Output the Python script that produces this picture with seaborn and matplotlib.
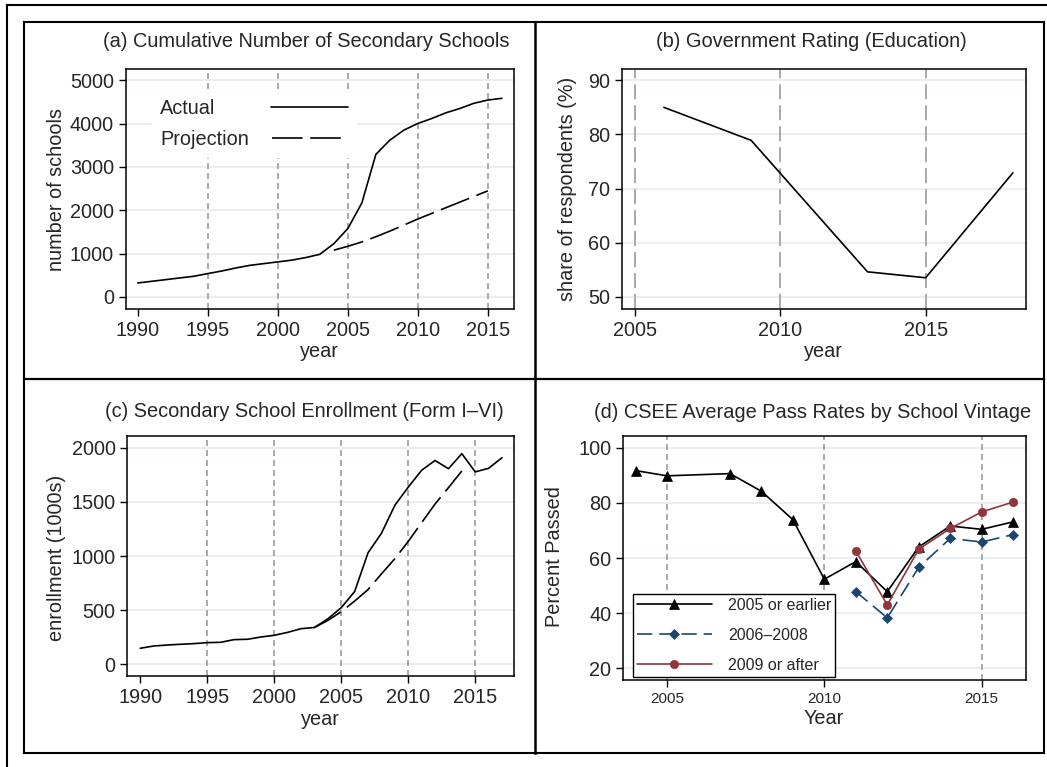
import matplotlib
matplotlib.use("Agg")
import matplotlib.pyplot as plt
import seaborn as sns
import pandas as pd
from matplotlib.lines import Line2D

# ---------------- data ----------------
years_schools = [1990, 1991, 1992, 1993, 1994, 1995, 1996, 1997, 1998, 1999, 2000, 2001, 2002,
                 2003, 2004, 2005, 2006, 2007, 2008, 2009, 2010, 2011, 2012, 2013, 2014, 2015, 2016]
schools_actual = [324, 362, 400, 440, 478, 540, 600, 670, 730, 770, 810, 850, 910,
                  985, 1230, 1580, 2170, 3290, 3620, 3850, 4005, 4120, 4250, 4350, 4470, 4545, 4585]
years_schools_proj = [2004, 2005, 2006, 2007, 2008, 2009, 2010, 2011, 2012, 2013, 2014, 2015]
schools_proj = [1080, 1170, 1270, 1390, 1520, 1660, 1800, 1930, 2060, 2190, 2320, 2450]

years_rating = [2006, 2009, 2013, 2015, 2018]
rating = [85.0, 78.9, 54.6, 53.5, 72.9]

years_enroll = [1990, 1991, 1992, 1993, 1994, 1995, 1996, 1997, 1998, 1999, 2000, 2001, 2002, 2003,
                2004, 2005, 2006, 2007, 2008, 2009, 2010, 2011, 2012, 2013, 2014, 2015, 2016, 2017]
enroll_actual = [148, 169, 178, 185, 191, 200, 203, 228, 231, 252, 268, 295, 329, 340,
                 420, 523, 672, 1030, 1210, 1468, 1636, 1792, 1882, 1806, 1945, 1777, 1810, 1908]
years_enroll_proj = [2003, 2004, 2005, 2006, 2007, 2008, 2009, 2010, 2011, 2012, 2013, 2014]
enroll_proj = [340, 405, 486, 584, 690, 835, 975, 1135, 1308, 1480, 1631, 1785]

years_pass_old = [2004, 2005, 2007, 2008, 2009, 2010, 2011, 2012, 2013, 2014, 2015, 2016]
pass_2005_or_earlier = [91.7, 89.8, 90.6, 84.2, 73.9, 52.3, 58.7, 47.8, 64.0, 71.6, 70.4, 73.1]
years_pass_new = [2011, 2012, 2013, 2014, 2015, 2016]
pass_2006_2008 = [47.8, 38.3, 56.6, 67.1, 65.8, 68.5]
pass_2009_or_after = [62.5, 43.0, 63.2, 70.7, 76.7, 80.3]

titles = ["(a) Cumulative Number of Secondary Schools",
          "(b) Government Rating (Education)",
          "(c) Secondary School Enrollment (Form I\u2013VI)",
          "(d) CSEE Average Pass Rates by School Vintage"]

# ---------------- style ----------------
sns.set_theme(style="white")
plt.rcParams["font.family"] = ["Liberation Sans", "DejaVu Sans"]
plt.rcParams["lines.scale_dashes"] = False
plt.rcParams["axes.unicode_minus"] = False

W, H = 1047, 767
fig = plt.figure(figsize=(W / 100, H / 100), dpi=100)
fig.patch.set_facecolor("white")

GRID = "#e6eef1"
XLINE = "#a3a3a3"
NAVY = "#1a476f"
MAROON = "#90353b"
FS = 14.3


def px_axes(x0, y0, x1, y1):
    return fig.add_axes([x0 / W, 1 - y1 / H, (x1 - x0) / W, (y1 - y0) / H])


def style_axes(ax, xticks, yticks, xlim, ylim, xlines, xdash, xtick_size=FS):
    ax.set_xlim(*xlim)
    ax.set_ylim(*ylim)
    ax.set_xticks(xticks)
    ax.set_yticks(yticks)
    for s in ax.spines.values():
        s.set_visible(True)
        s.set_color("black")
        s.set_linewidth(1.1)
    ax.tick_params(axis="both", which="major", direction="out", length=5, width=1.0,
                   color="black", pad=3.5, left=True, bottom=True)
    ax.tick_params(axis="y", labelsize=FS)
    ax.tick_params(axis="x", labelsize=xtick_size)
    for yv in yticks:
        ax.axhline(yv, color=GRID, lw=1.3, zorder=0.5)
    for xv in xlines:
        ax.axvline(xv, color=XLINE, lw=1.3, linestyle=(0, xdash), zorder=0.6)


def place_labels(ax, title, xlabel, ylabel, t, xl, yl):
    ax.set_title(title, x=t[0], y=t[1], fontsize=14.4, va="center", ha="center", pad=0)
    ax.set_xlabel(xlabel, fontsize=FS)
    ax.set_ylabel(ylabel, fontsize=FS)
    ax.xaxis.set_label_coords(*xl)
    ax.yaxis.set_label_coords(*yl)
    ax.xaxis.label.set_va("center")
    ax.yaxis.label.set_va("center")


short_dash = (4.3, 2.9)
long_dash = (10.8, 4.3)
proj_dash = (22, 5.5)

# ---------------- panel a ----------------
ax_a = px_axes(125.7, 69, 514.1, 309.3)
style_axes(ax_a, [1990, 1995, 2000, 2005, 2010, 2015], [0, 1000, 2000, 3000, 4000, 5000],
           (1989.14, 2016.87), (-284, 5261), [1995, 2000, 2005, 2010, 2015], short_dash)
df_a = pd.DataFrame({"year": years_schools, "schools": schools_actual})
df_ap = pd.DataFrame({"year": years_schools_proj, "schools": schools_proj})
sns.lineplot(data=df_a, x="year", y="schools", ax=ax_a, color="black", lw=1.2, errorbar=None)
h_act = ax_a.lines[-1]
sns.lineplot(data=df_ap, x="year", y="schools", ax=ax_a, color="black", lw=1.2, errorbar=None,
             linestyle=(0, proj_dash))
h_proj = ax_a.lines[-1]
place_labels(ax_a, titles[0], "year", "number of schools",
             (0.4655, 1.1136), (0.4992, -0.1764), (-0.1774, 0.4965))


def legend_a(handle, label, ycen, textpad):
    lg = ax_a.legend([handle], [label], loc="center left", bbox_to_anchor=(0.068, ycen),
                     markerfirst=False, frameon=True, fontsize=FS, handlelength=3.85,
                     handletextpad=textpad, borderpad=0.4, borderaxespad=0, fancybox=False)
    fr = lg.get_frame()
    fr.set_facecolor("white")
    fr.set_edgecolor("white")
    fr.set_alpha(1)
    return lg


leg1 = legend_a(h_act, "Actual", 0.8365, 2.8)
ax_a.add_artist(leg1)
leg2 = legend_a(h_proj, "Projection", 0.7075, 1.15)

# ---------------- panel b ----------------
ax_b = px_axes(622.3, 69, 1025.7, 309.3)
style_axes(ax_b, [2005, 2010, 2015], [50, 60, 70, 80, 90],
           (2004.57, 2018.44), (47.67, 92.09), [2005, 2010, 2015], long_dash)
df_b = pd.DataFrame({"year": years_rating, "rating": rating})
sns.lineplot(data=df_b, x="year", y="rating", ax=ax_b, color="black", lw=1.2, errorbar=None)
place_labels(ax_b, titles[1], "year", "share of respondents (%)",
             (0.4698, 1.1136), (0.4975, -0.1764), (-0.1363, 0.5006))

# ---------------- panel c ----------------
ax_c = px_axes(127.4, 435.7, 514.1, 676)
style_axes(ax_c, [1990, 1995, 2000, 2005, 2010, 2015], [0, 500, 1000, 1500, 2000],
           (1989.04, 2017.9), (-108, 2111), [1995, 2000, 2005, 2010, 2015], short_dash)
df_c = pd.DataFrame({"year": years_enroll, "enroll": enroll_actual})
df_cp = pd.DataFrame({"year": years_enroll_proj, "enroll": enroll_proj})
sns.lineplot(data=df_c, x="year", y="enroll", ax=ax_c, color="black", lw=1.2, errorbar=None)
sns.lineplot(data=df_cp, x="year", y="enroll", ax=ax_c, color="black", lw=1.2, errorbar=None,
             linestyle=(0, proj_dash))
place_labels(ax_c, titles[2], "year", "enrollment (1000s)",
             (0.4577, 1.0999), (0.4986, -0.1802), (-0.1826, 0.4931))

# ---------------- panel d ----------------
ax_d = px_axes(623.3, 435.7, 1025.7, 680)
style_axes(ax_d, [2005, 2010, 2015], [20, 40, 60, 80, 100],
           (2003.61, 2016.4), (15.76, 104.35), [2005, 2010, 2015], short_dash, xtick_size=11)
df_d1 = pd.DataFrame({"year": years_pass_old, "pass": pass_2005_or_earlier})
df_d2 = pd.DataFrame({"year": years_pass_new, "pass": pass_2006_2008})
df_d3 = pd.DataFrame({"year": years_pass_new, "pass": pass_2009_or_after})
sns.lineplot(data=df_d1, x="year", y="pass", ax=ax_d, color="black", lw=1.2, errorbar=None,
             marker="^", markersize=7.8, markeredgecolor="black", markeredgewidth=0.5)
h1 = ax_d.lines[-1]
sns.lineplot(data=df_d2, x="year", y="pass", ax=ax_d, color=NAVY, lw=1.2, errorbar=None,
             linestyle=(0, (11, 5)), marker="D", markersize=5.4, markeredgecolor=NAVY,
             markeredgewidth=0.5)
h2 = ax_d.lines[-1]
sns.lineplot(data=df_d3, x="year", y="pass", ax=ax_d, color=MAROON, lw=1.2, errorbar=None,
             marker="o", markersize=6.0, markeredgecolor=MAROON, markeredgewidth=0.5)
h3 = ax_d.lines[-1]
place_labels(ax_d, titles[3], "Year", "Percent Passed",
             (0.4702, 1.0958), (0.498, -0.1556), (-0.1722, 0.505))
leg_d = ax_d.legend([h1, h2, h3], ["2005 or earlier", "2006\u20132008", "2009 or after"],
                    loc="lower left", bbox_to_anchor=(0.024, 0.0123), fontsize=11.5,
                    handlelength=4.7, handletextpad=1.0, labelspacing=0.95, borderpad=0.25,
                    borderaxespad=0, frameon=True, fancybox=False, numpoints=1)
leg_d.get_frame().set_edgecolor("black")
leg_d.get_frame().set_linewidth(1.0)
leg_d.get_frame().set_facecolor("white")
leg_d.get_frame().set_alpha(1)

# ---------------- outer frames ----------------
def fline(x0, y0, x1, y1, lw=1.5):
    fig.add_artist(Line2D([x0 / W, x1 / W], [1 - y0 / H, 1 - y1 / H], color="black",
                          lw=lw, transform=fig.transFigure, solid_capstyle="projecting"))

fline(7, 5, 1047, 5)
fline(7, 5, 7, 767)
fline(24, 22, 1044, 22)
fline(24, 22, 24, 753)
fline(1044, 22, 1044, 753)
fline(24, 753, 1044, 753)
fline(535, 22, 535, 753, lw=1.8)
fline(24, 378.5, 1044, 378.5, lw=1.6)

fig.savefig("out.png", dpi=100)
